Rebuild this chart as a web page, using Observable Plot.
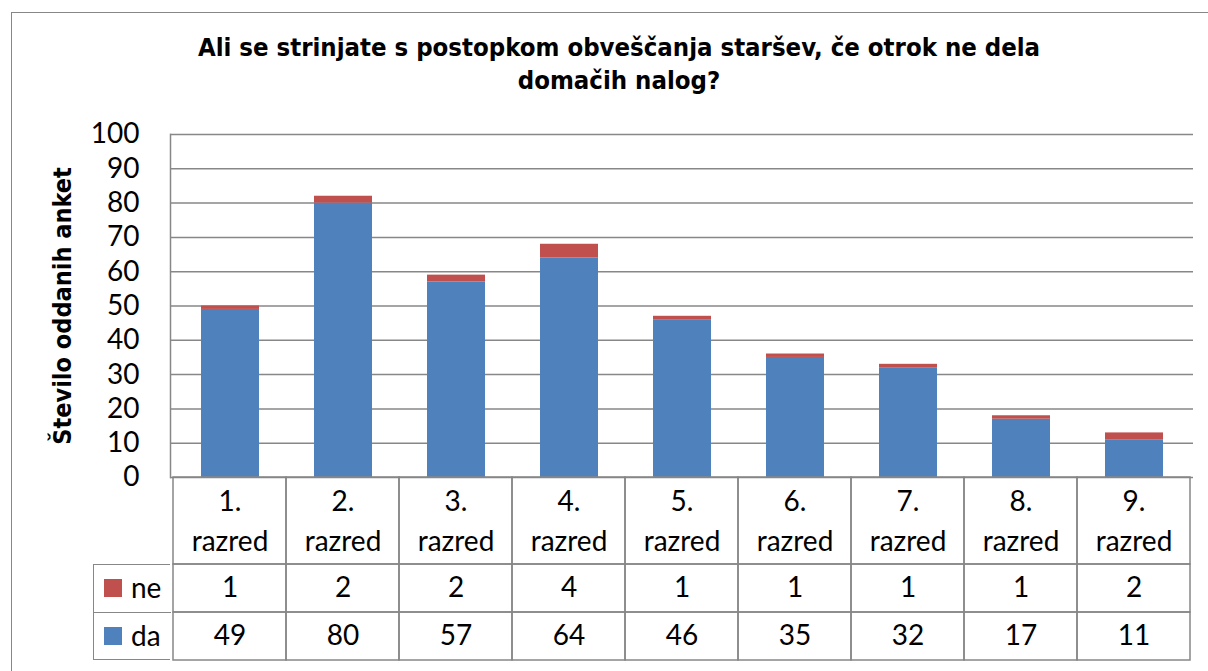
<!DOCTYPE html>
<html>
<head>
<meta charset="utf-8">
<script src="https://cdn.jsdelivr.net/npm/d3@7"></script>
<script src="https://cdn.jsdelivr.net/npm/@observablehq/plot@0.6"></script>
<style>
  html, body { margin: 0; padding: 0; background: #fff; width: 1208px; height: 671px; overflow: hidden; }
  #border { position: absolute; left: 11px; top: 12px; width: 1300px; height: 800px; border: 1.5px solid #878787; box-sizing: border-box; }
  #title { position: absolute; left: 0; top: 31px; width: 1238px; text-align: center;
           font-family: "DejaVu Sans Condensed", "DejaVu Sans", sans-serif; font-weight: bold;
           font-size: 25.5px; line-height: 33px; color: #000; }
  .abs { position: absolute; left: 0; }
  #legend { position: absolute; left: 93px; top: 564px; width: 77px; height: 96px; box-sizing: border-box;
            border-left: 1.5px solid #878787; border-top: 1.5px solid #878787; border-bottom: 1.5px solid #878787; }
  .lrow { position: absolute; left: 0; width: 77px; height: 48px; font-family: Lato, sans-serif; font-size: 28px; color: #000; }
  .lrow .sw { position: absolute; left: 10px; top: 14px; width: 18px; height: 18px; }
  .lrow .lt { position: absolute; left: 37px; top: 4px; line-height: 36px; }
</style>
</head>
<body>
<div id="border"></div>
<div id="title"></div>
<div id="chart" class="abs" style="top:100px"></div>
<div id="tableCat" class="abs" style="top:476px"></div>
<div id="tableVal" class="abs" style="top:563px"></div>
<div id="legend"></div>
<script>
// ---- data ----
const titleLines = ["Ali se strinjate s postopkom obveščanja staršev, če otrok ne dela", "domačih nalog?"];
const yLabel = "Število oddanih anket";
const categories = ["1. razred", "2. razred", "3. razred", "4. razred", "5. razred", "6. razred", "7. razred", "8. razred", "9. razred"];
const series = ["ne", "da"];
const seriesColors = ["#C0504D", "#4F81BD"];
const daValues = [49, 80, 57, 64, 46, 35, 32, 17, 11];
const neValues = [1, 2, 2, 4, 1, 1, 1, 1, 2];
const yTicks = [0, 10, 20, 30, 40, 50, 60, 70, 80, 90, 100];

const gridColor = "#878787";
const numFont = "Lato, sans-serif";

// long-format rows, "da" first so it stacks at the bottom
const rows = [
  ...categories.map((c, i) => ({cat: c, series: "da", value: daValues[i]})),
  ...categories.map((c, i) => ({cat: c, series: "ne", value: neValues[i]}))
];

document.getElementById("title").innerHTML = titleLines.join("<br>");

// ---- chart ----
const chart = Plot.plot({
  width: 1208, height: 400,
  marginTop: 34, marginBottom: 23, marginLeft: 170, marginRight: 15,
  style: {fontFamily: numFont, fontSize: "28px", color: "#000", background: "transparent"},
  x: {domain: categories, paddingInner: 0.49, paddingOuter: 0.245, axis: null},
  y: {domain: [0, 100], ticks: yTicks, tickSize: 0, tickPadding: 31, label: null},
  color: {domain: series, range: seriesColors},
  marks: [
    Plot.ruleY(yTicks, {stroke: gridColor, strokeWidth: 1.5, strokeOpacity: 1}),
    Plot.frame({anchor: "left", stroke: gridColor, strokeWidth: 1.5}),
    Plot.barY(rows, {x: "cat", y: "value", fill: "series"}),
    Plot.text([yLabel], {frameAnchor: "left", textAnchor: "middle", dx: -108, rotate: -90, text: d => d,
      fontFamily: "DejaVu Sans Condensed, DejaVu Sans, sans-serif", fontWeight: "bold", fontSize: 25, fill: "#000"})
  ]
});
document.getElementById("chart").appendChild(chart);

// ---- data table: category row ----
const tableCat = Plot.plot({
  width: 1208, height: 89,
  marginTop: 1, marginBottom: 1, marginLeft: 170, marginRight: 15,
  style: {fontFamily: numFont, fontSize: "28px", background: "transparent"},
  x: {domain: categories, padding: 0, axis: null},
  marks: [
    Plot.cell(categories, {x: d => d, fill: "none", stroke: gridColor, strokeWidth: 1.5}),
    Plot.text(categories, {x: d => d, text: d => d.replace(" ", "\n"), frameAnchor: "middle",
      lineHeight: 1.45, dy: -3, fontSize: 28, fill: "#000"})
  ]
});
document.getElementById("tableCat").appendChild(tableCat);

// ---- data table: value rows ----
const tableVal = Plot.plot({
  width: 1208, height: 98,
  marginTop: 1, marginBottom: 1, marginLeft: 170, marginRight: 15,
  style: {fontFamily: numFont, fontSize: "28px", background: "transparent"},
  x: {domain: categories, padding: 0, axis: null},
  y: {domain: series, padding: 0, axis: null},
  marks: [
    Plot.cell(rows, {x: "cat", y: "series", fill: "none", stroke: gridColor, strokeWidth: 1.5}),
    Plot.text(rows, {x: "cat", y: "series", text: d => String(d.value), fontSize: 28, fill: "#000"})
  ]
});
document.getElementById("tableVal").appendChild(tableVal);

// ---- legend column of the data table ----
const legend = document.getElementById("legend");
series.forEach((s, i) => {
  const r = document.createElement("div");
  r.className = "lrow";
  r.style.top = (i * 47) + "px";
  if (i > 0) r.style.borderTop = "1.5px solid " + gridColor;
  r.innerHTML = `<span class="sw" style="background:${seriesColors[i]}"></span><span class="lt">${s}</span>`;
  legend.appendChild(r);
});
</script>
</body>
</html>
